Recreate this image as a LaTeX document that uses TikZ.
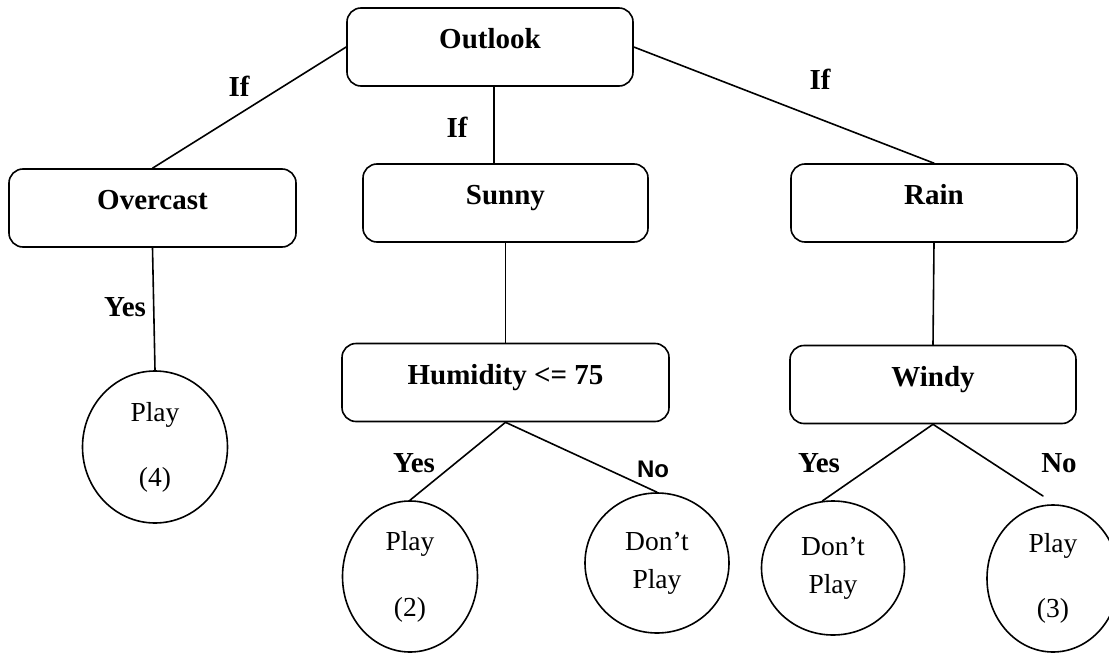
\documentclass[tikz,border=0pt]{standalone}
\usepackage{fontspec}
\setmainfont{Liberation Serif}
\newfontfamily\labelsans{Liberation Sans}
\usetikzlibrary{shapes.geometric}

\tikzset{
  every picture/.style={x=1pt, y=-1pt},
  edge/.style={line width=1.6pt, line cap=round},
  testbox/.style={draw, line width=1.6pt, rounded corners=14pt, inner sep=0pt,
    minimum height=78pt, text height=20pt, text depth=17pt,
    font=\fontsize{29}{34}\selectfont\bfseries},
  leaf/.style={draw, ellipse, line width=1.6pt, inner sep=0pt, align=center},
  cond/.style={font=\fontsize{29}{34}\selectfont\bfseries, inner sep=0pt},
}

\begin{document}
\begin{tikzpicture}
\useasboundingbox (0,0) rectangle (1109,653);

% decision nodes
\node[testbox, minimum width=286pt] (outlook) at (490,47)    {Outlook};
\node[testbox, minimum width=287pt] (overcast) at (152.5,208) {Overcast};
\node[testbox, minimum width=285pt] (sunny) at (505.5,203)   {Sunny};
\node[testbox, minimum width=286pt] (rain) at (934,203)      {Rain};
\node[testbox, minimum width=327pt] (humid) at (505.5,382.5) {Humidity <= 75};
\node[testbox, minimum width=286pt] (windy) at (933,384.5)   {Windy};

% leaves
\node[leaf, minimum width=145pt, minimum height=152pt,
      font=\fontsize{27.5}{65}\selectfont] (p4) at (155,447) {Play\\(4)};
\node[leaf, minimum width=135pt, minimum height=151pt,
      font=\fontsize{27.5}{66}\selectfont] (p2) at (410,576.5) {Play\\(2)};
\node[leaf, minimum width=144pt, minimum height=140pt,
      font=\fontsize{27.5}{38}\selectfont] (dp1) at (657,563) {Don’t\\Play};
\node[leaf, minimum width=143pt, minimum height=134pt,
      font=\fontsize{27.5}{38}\selectfont] (dp2) at (833,568) {Don’t\\Play};
\node[leaf, minimum width=132pt, minimum height=147pt,
      font=\fontsize{27.5}{65}\selectfont] (p3) at (1053,578.5) {Play\\(3)};

\coordinate (p3end) at (1043,496);

% branches
\draw[edge] (outlook.west) -- (overcast.north);
\draw[edge] ([xshift=4pt]outlook.south) -- ([xshift=-11.5pt]sunny.north);
\draw[edge] (outlook.east) -- (rain.north);
\draw[edge] (overcast.south) -- (p4.north);
\draw[edge] (sunny.south) -- (humid.north);
\draw[edge] (rain.south) -- (windy.north);
\draw[edge] (humid.south) -- (p2.north);
\draw[edge] (humid.south) -- (dp1.north);
\draw[edge] (windy.south) -- (dp2.99);
\draw[edge] (windy.south) -- (p3end);

% branch labels
\node[cond] (if1) at (239,86)  {If};
\node[cond] (if2) at (457,127) {If};
\node[cond] (if3) at (820,79)  {If};
\node[cond] (yes1) at (125,307) {Yes};
\node[cond] (yes2) at (414,463) {Yes};
\node[inner sep=0pt, font=\labelsans\fontsize{24}{28}\selectfont\bfseries] (no1) at (653,469) {No};
\node[cond] (yes3) at (819,463) {Yes};
\node[cond] (no2) at (1059,463) {No};
\end{tikzpicture}
\end{document}
